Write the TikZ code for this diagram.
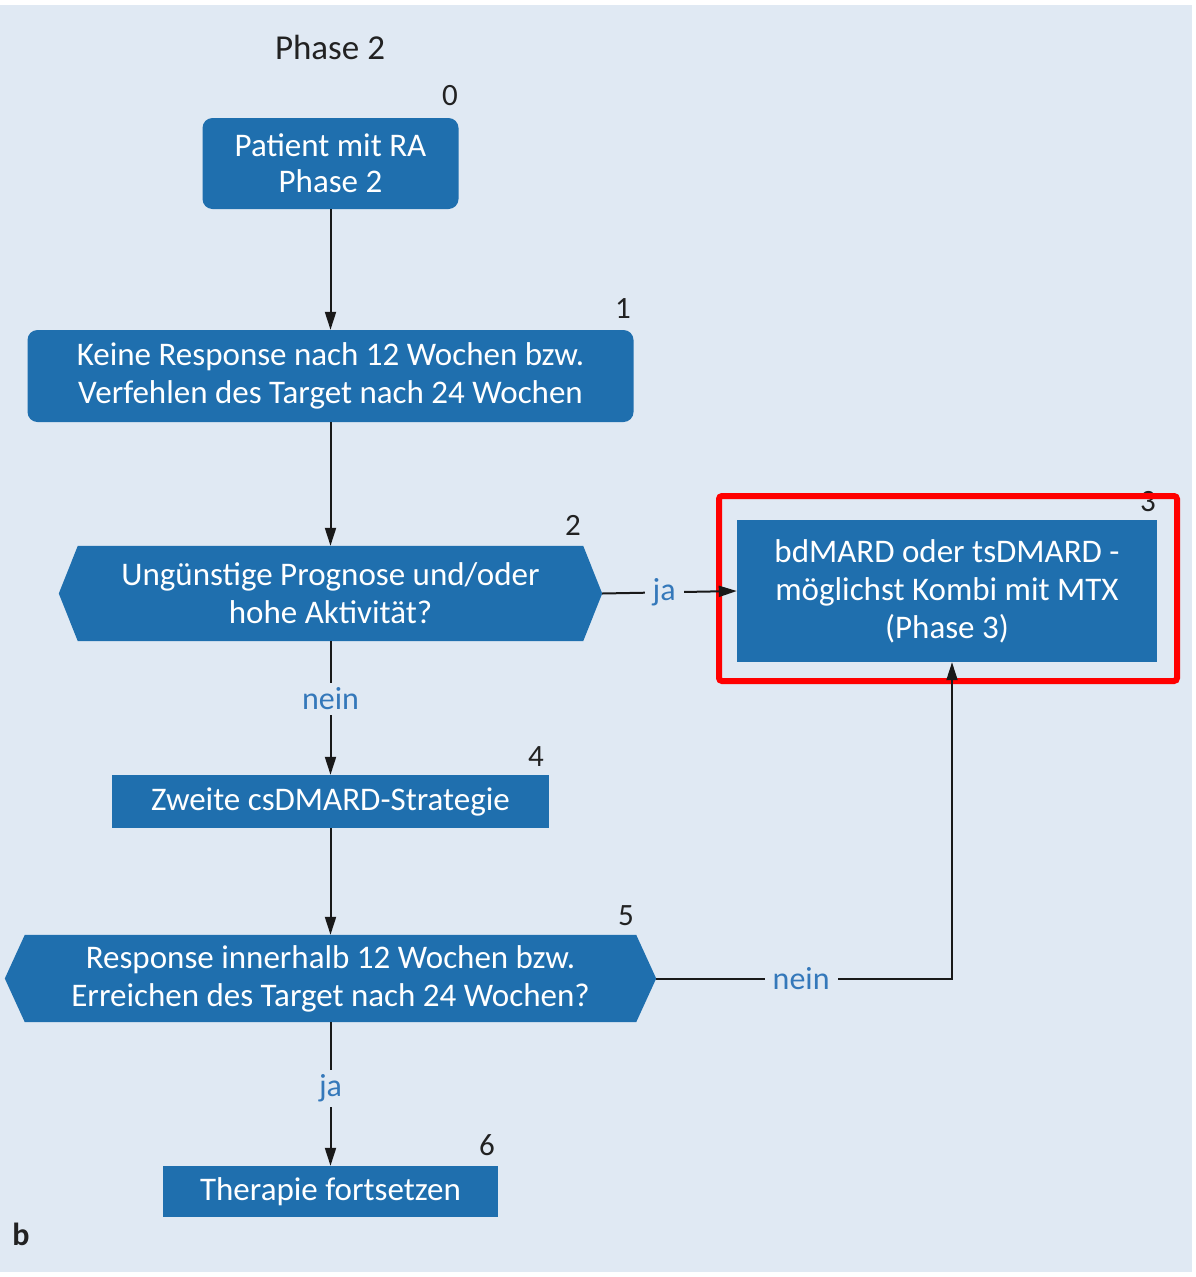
\documentclass[tikz,border=0pt]{standalone}
\usepackage{fontspec}
\setmainfont{Carlito}
\usetikzlibrary{arrows.meta,backgrounds}
\definecolor{bgblue}{HTML}{E0E9F3}
\definecolor{boxblue}{HTML}{1F6FAE}
\definecolor{lblblue}{HTML}{3478BA}
\definecolor{numgray}{HTML}{222222}
\tikzset{
  box/.style={fill=boxblue, text=white, inner sep=0pt, align=center, font=\fontsize{33}{38}\selectfont},
  roundbox/.style={box, rounded corners=10pt},
  hexcore/.style={inner sep=0pt, text=white, align=center, font=\fontsize{33}{38}\selectfont},
  num/.style={text=numgray, font=\fontsize{31}{33}\selectfont, inner sep=0pt},
  yn/.style={text=lblblue, font=\fontsize{32}{34}\selectfont, inner xsep=8pt, inner ysep=5pt, fill=bgblue},
  conn/.style={line width=2pt, draw=black!90},
  arr/.style={conn, -{Triangle[length=18pt,width=11pt]}},
}
\begin{document}
\begin{tikzpicture}[x=1pt,y=-1pt]
\useasboundingbox (0,0) rectangle (1196,1277);
\begin{scope}[on background layer]
\fill[white] (0,0) rectangle (1196,1277);
\fill[bgblue] (0,5) rectangle (1192,1272);
\end{scope}

% title
\node[num, font=\fontsize{35}{37}\selectfont] (title) at (330,47) {Phase 2};

% nodes
\node[roundbox, minimum width=256pt, minimum height=91pt] (b0) at (330.5,163.5) {Patient mit RA\\[-2pt]Phase 2};
\node[num] (n0) at (450,96) {0};

\node[roundbox, minimum width=606pt, minimum height=92pt] (b1) at (330.5,376) {Keine Response nach 12 Wochen bzw.\\Verfehlen des Target nach 24 Wochen};
\node[num] (n1) at (623,309) {1};

\node[hexcore, minimum width=505pt, minimum height=95pt] (b2) at (330.5,593.5) {Ungünstige Prognose und/oder\\hohe Aktivität?};
\coordinate (b2w) at ([xshift=-19pt]b2.west);
\coordinate (b2e) at ([xshift=19pt]b2.east);
\begin{scope}[on background layer]
\fill[boxblue] (b2w) -- (b2.north west) -- (b2.north east) -- (b2e) -- (b2.south east) -- (b2.south west) -- cycle;
\end{scope}
\node[num] (n2) at (573,525) {2};

\node[box, minimum width=420pt, minimum height=142pt] (b3) at (947,591) {bdMARD oder tsDMARD -\\möglichst Kombi mit MTX\\(Phase 3)};
\node[num] (n3) at (1148,502) {3};

\node[box, minimum width=437pt, minimum height=53pt] (b4) at (330.5,801.5) {Zweite csDMARD-Strategie};
\node[num] (n4) at (536,757) {4};

\node[hexcore, minimum width=611pt, minimum height=87pt] (b5) at (330.5,978.5) {Response innerhalb 12 Wochen bzw.\\Erreichen des Target nach 24 Wochen?};
\coordinate (b5w) at ([xshift=-20pt]b5.west);
\coordinate (b5e) at ([xshift=20pt]b5.east);
\begin{scope}[on background layer]
\fill[boxblue] (b5w) -- (b5.north west) -- (b5.north east) -- (b5e) -- (b5.south east) -- (b5.south west) -- cycle;
\end{scope}
\node[num] (n5) at (626,916) {5};

\node[box, minimum width=335pt, minimum height=51pt] (b6) at (330.5,1191.5) {Therapie fortsetzen};
\node[num] (n6) at (487,1145) {6};

\node[num, font=\fontsize{32}{34}\selectfont\bfseries] (lb) at (21,1234) {b};

% highlight frame
\draw[red, line width=6pt, rounded corners=3pt] (719,496) rectangle (1177,681);

% connectors
\draw[arr] (b0.south) -- (b1.north);
\draw[arr] (b1.south) -- (b2.north);
\draw[arr] (b2e) -- node[yn, pos=0.46] (ja1) {ja} (b3.west);
\draw[arr] (b2.south) -- node[yn, pos=0.43] (nein1) {nein} (b4.north);
\draw[arr] (b4.south) -- (b5.north);
\coordinate (b3in) at ([xshift=5pt]b3.south);
\coordinate (corner) at (b3in |- b5e);
\draw[arr] (b5e) -- node[yn, pos=0.49] (nein2) {nein} (corner) -- (b3in);
\draw[arr] (b5.south) -- node[yn, pos=0.46] (ja2) {ja} (b6.north);
\end{tikzpicture}
\end{document}
